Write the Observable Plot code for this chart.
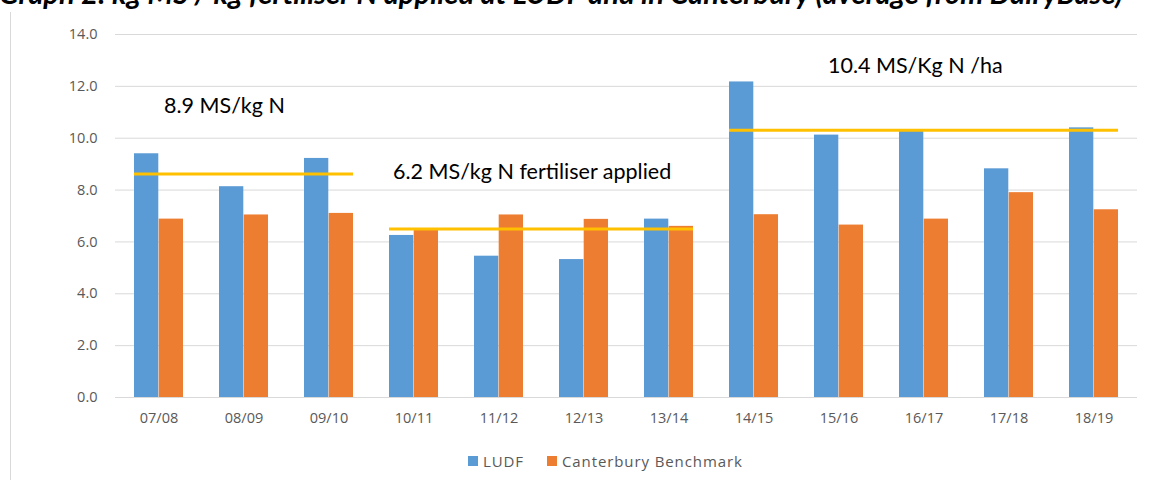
<!DOCTYPE html>
<html><head><meta charset="utf-8">
<script src="https://cdn.jsdelivr.net/npm/d3@7"></script>
<script src="https://cdn.jsdelivr.net/npm/@observablehq/plot@0.6"></script>
<style>
body{margin:0;background:#fff;width:1175px;height:480px;overflow:hidden;position:relative;font-family:"Open Sans",sans-serif;}
#chart{position:absolute;left:0;top:0}
#title{position:absolute;left:-1px;top:-20px;font-style:italic;font-weight:bold;font-family:Lato,sans-serif;font-size:22px;white-space:nowrap;color:#000;line-height:26px}
#frame{position:absolute;left:10px;top:12px;width:1px;height:468px;background:#d9d9d9}
#legend{position:absolute;top:451px;left:468px;display:flex;align-items:center;font-size:15px;color:#595959;letter-spacing:0.9px;white-space:nowrap}
#legend .sw{display:inline-block;width:10px;height:10px;margin-right:5px}
#legend .item{display:flex;align-items:center;margin-right:23px}
</style></head>
<body>
<div id="chart"></div>
<div id="frame"></div>
<div id="title"></div>
<div id="legend"></div>
<script>
const titleText = "Graph 2: kg MS / kg fertiliser N applied at LUDF and in Canterbury (average from DairyBase)";
const seasons = ["07/08","08/09","09/10","10/11","11/12","12/13","13/14","14/15","15/16","16/17","17/18","18/19"];
const ludf = [9.4, 8.13, 9.22, 6.25, 5.45, 5.32, 6.88, 12.17, 10.12, 10.28, 8.82, 10.4];
const canterbury = [6.88, 7.04, 7.1, 6.45, 7.04, 6.87, 6.6, 7.05, 6.65, 6.88, 7.9, 7.24];
const seriesNames = ["LUDF", "Canterbury Benchmark"];
const seriesColors = ["#5B9BD5", "#ED7D31"];
const avgLabels = ["8.9 MS/kg N", "6.2 MS/kg N fertiliser applied", "10.4 MS/Kg N /ha"];
const avgStart = ["07/08", "10/11", "14/15"];
const avgEnd = ["09/10", "13/14", "18/19"];
const avgValues = [8.62, 6.5, 10.31];
const yTicks = [0, 2, 4, 6, 8, 10, 12, 14];

const titleEl = document.getElementById("title");
titleEl.textContent = titleText;
// fit title to the width it occupies in the reference
const tw = titleEl.getBoundingClientRect().width;
titleEl.style.fontSize = (22 * 1124 / tw) + "px";

const W = 1175, H = 440, mL = 115, mR = 38, mT = 34, mB = 43;
const pInner = 0.42, pOuter = 0.21;
const step = (W - mL - mR) / (seasons.length - pInner + 2 * pOuter);
const half = step * (1 - pInner) / 2;

const ludfRows = seasons.map((s, i) => ({season: s, value: ludf[i]}));
const cantRows = seasons.map((s, i) => ({season: s, value: canterbury[i]}));
const avgRows = avgValues.map((v, i) => ({start: avgStart[i], end: avgEnd[i], value: v, label: avgLabels[i]}));

const chart = Plot.plot({
  width: W, height: H,
  marginLeft: mL, marginRight: mR, marginTop: mT, marginBottom: mB,
  style: {fontFamily: "'Open Sans', sans-serif", background: "transparent"},
  x: {domain: seasons, paddingInner: pInner, paddingOuter: pOuter, label: null},
  y: {domain: [0, 14], label: null},
  marks: [
    Plot.gridY(yTicks, {stroke: "#d9d9d9", strokeOpacity: 1, strokeWidth: 1}),
    Plot.axisY(yTicks, {tickSize: 0, tickPadding: 18, tickFormat: d3.format(".1f"), fontSize: 14.5, fill: "#595959", label: null, style: "letter-spacing:0.5px"}),
    Plot.axisX({tickSize: 0, tickPadding: 15, fontSize: 14.5, fill: "#595959", label: null, style: "letter-spacing:0.5px"}),
    Plot.barY(ludfRows, {x: "season", y: "value", fill: seriesColors[0], insetRight: half}),
    Plot.barY(cantRows, {x: "season", y: "value", fill: seriesColors[1], insetLeft: half}),
    Plot.ruleY(avgRows, {x1: "start", x2: "end", y: "value", stroke: "#FFC000", strokeWidth: 3}),
    Plot.text([avgRows[0]], {x: "start", y: 11.25, text: "label", textAnchor: "start", dx: 5, fontSize: 21.5, fill: "#000", fontFamily: "Lato"}),
    Plot.text([avgRows[1]], {x: "start", y: 8.7, text: "label", textAnchor: "start", dx: -21, fontSize: 21.5, fill: "#000", fontFamily: "Lato"}),
    Plot.text([avgRows[2]], {x: "start", y: 12.8, text: "label", textAnchor: "start", dx: 74, fontSize: 21.5, fill: "#000", fontFamily: "Lato"})
  ]
});
document.getElementById("chart").appendChild(chart);

const legend = document.getElementById("legend");
seriesNames.forEach((n, i) => {
  const it = document.createElement("span");
  it.className = "item";
  const sw = document.createElement("span");
  sw.className = "sw";
  sw.style.background = seriesColors[i];
  it.appendChild(sw);
  it.appendChild(document.createTextNode(n));
  legend.appendChild(it);
});
</script>
</body></html>
